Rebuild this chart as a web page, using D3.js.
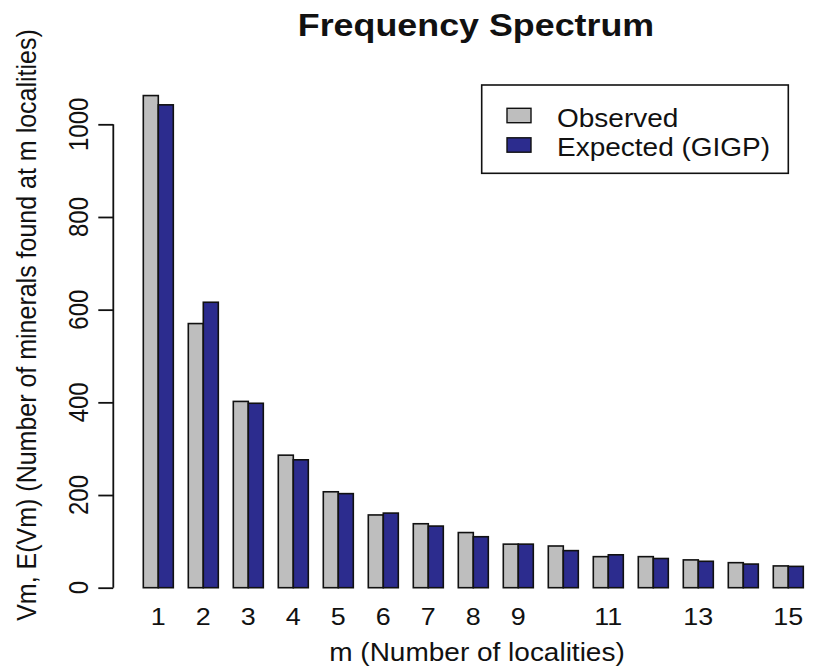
<!DOCTYPE html>
<html>
<head>
<meta charset="utf-8">
<script src="https://cdn.jsdelivr.net/npm/d3@7"></script>
<style>
  html, body { margin: 0; padding: 0; background: #ffffff; }
  svg { display: block; }
  text { font-family: "Liberation Sans", Arial, Helvetica, sans-serif; fill: #111; }
</style>
</head>
<body>
<svg id="chart" width="813" height="669"></svg>
<script>
// ---- data ----
const categories = [1, 2, 3, 4, 5, 6, 7, 8, 9, 10, 11, 12, 13, 14, 15];
const observed = [1062, 570, 402, 286, 207, 157, 138, 119, 94, 90, 67, 67, 60, 54, 47];
const expected = [1042, 616, 398, 276, 203, 161, 133, 110, 94, 80, 71, 63, 57, 51, 46];
const xTickLabels = [1, 2, 3, 4, 5, 6, 7, 8, 9, 11, 13, 15];
const yTicks = [0, 200, 400, 600, 800, 1000];
const seriesNames = ["Observed", "Expected (GIGP)"];
const seriesColors = ["#bebebe", "#2c2c8e"];

const title = "Frequency Spectrum";
const xTitle = "m (Number of localities)";
const yTitle = "Vm, E(Vm) (Number of minerals found at m localities)";

// ---- layout ----
const SX = 1.12; // horizontal stretch of the reference rendering
const svg = d3.select("#chart");

// x in barplot units: group i -> grey [3i-2, 3i-1], blue [3i-1, 3i]
const x = d3.scaleLinear().domain([1, 45]).range([143.3, 803.3]);
const y = d3.scaleLinear().domain([0, 1000]).range([587.7, 124.3]);

const rows = categories.map((c, i) => ({ c, i, vals: [observed[i], expected[i]] }));

// bars
const g = svg.append("g");
rows.forEach(r => {
  r.vals.forEach((v, k) => {
    const left = 3 * (r.i + 1) - 2 + k;
    g.append("rect")
      .attr("x", x(left))
      .attr("y", y(v))
      .attr("width", x(left + 1) - x(left))
      .attr("height", y(0) - y(v))
      .attr("fill", seriesColors[k])
      .attr("stroke", "#111")
      .attr("stroke-width", 1.6);
  });
});

// y axis
const axisX = 113.3;
const yAxis = svg.append("g").attr("transform", `translate(${axisX},0)`)
  .call(d3.axisLeft(y).tickValues(yTicks).tickSize(15).tickFormat(""));
yAxis.select(".domain").attr("d", `M0,${y(0)}V${y(1000)}`).attr("stroke", "#111").attr("stroke-width", 1.8);
yAxis.selectAll(".tick line").attr("stroke", "#111").attr("stroke-width", 1.8);

svg.append("g").selectAll("text").data(yTicks).join("text")
  .attr("transform", d => `translate(88,${y(d)}) scale(${SX},1) rotate(-90)`)
  .attr("text-anchor", "middle")
  .attr("font-size", 24)
  .text(d => d);

// x tick labels (no axis line)
svg.append("g").selectAll("text").data(xTickLabels).join("text")
  .attr("transform", d => `translate(${x(3 * d - 1)},625) scale(${SX},1)`)
  .attr("text-anchor", "middle")
  .attr("font-size", 24)
  .text(d => d);

// title
svg.append("text")
  .attr("transform", `translate(476,36) scale(${SX},1)`)
  .attr("text-anchor", "middle")
  .attr("font-size", 32)
  .attr("font-weight", "bold")
  .text(title);

// axis titles
svg.append("text")
  .attr("transform", `translate(477,661) scale(${SX},1)`)
  .attr("text-anchor", "middle")
  .attr("font-size", 25)
  .text(xTitle);

svg.append("text")
  .attr("transform", `translate(36,325) scale(${SX},1) rotate(-90)`)
  .attr("text-anchor", "middle")
  .attr("font-size", 25)
  .text(yTitle);

// legend
const lg = svg.append("g");
lg.append("rect")
  .attr("x", 481.7).attr("y", 85)
  .attr("width", 306.6).attr("height", 88.3)
  .attr("fill", "#fff").attr("stroke", "#111").attr("stroke-width", 1.6);
seriesNames.forEach((name, k) => {
  const cy = k === 0 ? 115.5 : 145;
  lg.append("rect")
    .attr("x", 507).attr("y", cy - 7.2)
    .attr("width", 24).attr("height", 14.4)
    .attr("fill", seriesColors[k]).attr("stroke", "#111").attr("stroke-width", 1.4);
  lg.append("text")
    .attr("transform", `translate(557,${cy + 11}) scale(${SX},1)`)
    .attr("font-size", 25)
    .text(name);
});
</script>
</body>
</html>
